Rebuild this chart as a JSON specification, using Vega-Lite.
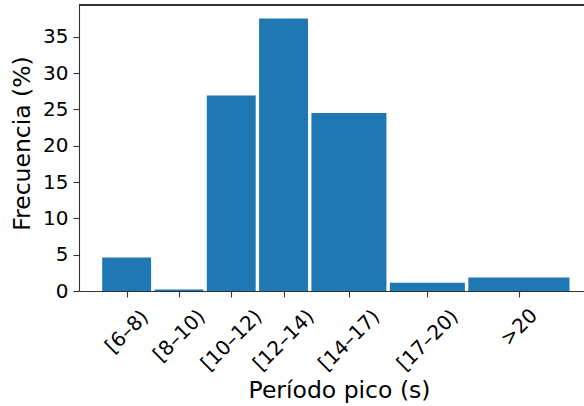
{
  "$schema": "https://vega.github.io/schema/vega-lite/v6.json",
  "autosize": {"type": "none"},
  "padding": {"left": 79, "top": 5, "right": 0, "bottom": 115},
  "width": 505,
  "height": 286,
  "background": "white",
  "config": {
    "font": "DejaVu Sans",
    "view": {"stroke": null},
    "axis": {"grid": false, "domainColor": "#333", "tickColor": "#333", "labelColor": "black", "titleColor": "black", "titleFontWeight": "normal", "domainWidth": 1.1, "tickWidth": 1.1, "tickSize": 6}
  },
  "data": {
    "values": [
      {"periodo": "[6–8)", "ini": 6, "fin": 8, "frecuencia": 4.6},
      {"periodo": "[8–10)", "ini": 8, "fin": 10, "frecuencia": 0.2},
      {"periodo": "[10–12)", "ini": 10, "fin": 12, "frecuencia": 26.9},
      {"periodo": "[12–14)", "ini": 12, "fin": 14, "frecuencia": 37.5},
      {"periodo": "[14–17)", "ini": 14, "fin": 17, "frecuencia": 24.5},
      {"periodo": "[17–20)", "ini": 17, "fin": 20, "frecuencia": 1.15},
      {"periodo": ">20", "ini": 20, "fin": 24, "frecuencia": 1.85}
    ]
  },
  "resolve": {"axis": {"x": "independent"}},
  "layer": [
    {
      "mark": {"type": "bar", "color": "#1f77b4", "xOffset": 1.7, "x2Offset": -1.7, "cornerRadius": 0},
      "encoding": {
        "x": {
          "field": "ini", "type": "quantitative",
          "scale": {"domain": [5.178, 24.49], "nice": false, "zero": false},
          "axis": {
            "orient": "bottom",
            "title": "Período pico (s)",
            "titleFontSize": 23.5,
            "titleX": 260,
            "titleY": 106,
            "titleAlign": "center",
            "titleBaseline": "alphabetic",
            "values": [11, 13, 15.5, 18.5],
            "labelExpr": "datum.value == 11 ? '[10–12)' : datum.value == 13 ? '[12–14)' : datum.value == 15.5 ? '[14–17)' : '[17–20)'",
            "labelAngle": -45,
            "labelAlign": "center",
            "labelBaseline": "middle",
            "labelFontSize": 20,
            "labelOverlap": false,
            "labelFlush": false,
            "labelPadding": 43
          }
        },
        "x2": {"field": "fin"},
        "y": {
          "field": "frecuencia", "type": "quantitative",
          "scale": {"domain": [0, 39.37], "nice": false},
          "axis": {
            "title": "Frecuencia (%)",
            "titleFontSize": 23.5,
            "titleX": -50,
            "titleY": 138,
            "titleAlign": "center",
            "titleBaseline": "alphabetic",
            "values": [0, 5, 10, 15, 20, 25, 30, 35],
            "labelFontSize": 20,
            "labelPadding": 5
          }
        },
        "y2": {"datum": 0}
      }
    },
    {
      "mark": {"type": "rule", "strokeOpacity": 0},
      "encoding": {
        "x": {
          "datum": 7, "type": "quantitative",
          "axis": {"orient": "bottom", "title": null, "domain": false, "values": [7], "labelExpr": "'[6–8)'", "labelAngle": -45, "labelAlign": "center", "labelBaseline": "middle", "labelFontSize": 20, "labelOverlap": false, "labelFlush": false, "labelPadding": 34.5}
        }
      }
    },
    {
      "mark": {"type": "rule", "strokeOpacity": 0},
      "encoding": {
        "x": {
          "datum": 9, "type": "quantitative",
          "axis": {"orient": "bottom", "title": null, "domain": false, "values": [9], "labelExpr": "'[8–10)'", "labelAngle": -45, "labelAlign": "center", "labelBaseline": "middle", "labelFontSize": 20, "labelOverlap": false, "labelFlush": false, "labelPadding": 38.5}
        }
      }
    },
    {
      "mark": {"type": "rule", "strokeOpacity": 0},
      "encoding": {
        "x": {
          "datum": 22, "type": "quantitative",
          "axis": {"orient": "bottom", "title": null, "domain": false, "values": [22], "labelExpr": "'>20'", "labelAngle": -45, "labelAlign": "center", "labelBaseline": "middle", "labelFontSize": 20, "labelOverlap": false, "labelFlush": false, "labelPadding": 30}
        }
      }
    },
    {
      "mark": {"type": "rule", "color": "#333", "strokeWidth": 1.1},
      "encoding": {"y": {"datum": 39.37, "type": "quantitative"}}
    }
  ]
}
